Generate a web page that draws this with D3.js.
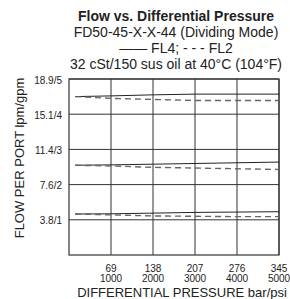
<!DOCTYPE html>
<html>
<head>
<meta charset="utf-8">
<script src="https://cdn.jsdelivr.net/npm/d3@7"></script>
<style>
  body { margin: 0; background: #fff; }
  svg text { font-family: "Liberation Sans", Arial, sans-serif; fill: #222; }
</style>
</head>
<body>
<svg id="chart" width="290" height="299"></svg>
<script>
// pressure in bar, flow in gpm
let xTicks = [69, 138, 207, 276, 345];
let xTickPsi = ["1000", "2000", "3000", "4000", "5000"];
let yTicks = [1, 2, 3, 4, 5];
let yTickLabels = ["3.8/1", "7.6/2", "11.4/3", "15.1/4", "18.9/5"];

let pressure = [10, 69, 138, 207, 276, 345];
let fl4High = [4.50, 4.52, 4.55, 4.57, 4.57, 4.57];
let fl2High = [4.50, 4.45, 4.42, 4.39, 4.39, 4.39];
let fl4Mid = [2.55, 2.56, 2.58, 2.60, 2.62, 2.64];
let fl2Mid = [2.55, 2.53, 2.49, 2.47, 2.45, 2.43];
let fl4Low = [1.165, 1.17, 1.19, 1.21, 1.22, 1.23];
let fl2Low = [1.165, 1.14, 1.11, 1.10, 1.09, 1.09];

let svg = d3.select("#chart");

let x = d3.scaleLinear().domain([0, 345]).range([69, 279]);
let y = d3.scaleLinear().domain([0, 5]).range([255, 79]);

// titles
let titles = [
    { t: "Flow vs. Differential Pressure", y: 20.5, bold: true },
    { t: "FD50-45-X-X-44 (Dividing Mode)", y: 36.5 },
    { t: "—— FL4; - - - FL2", y: 52.5 },
    { t: "32 cSt/150 sus oil at 40°C (104°F)", y: 68.5 }
];
svg.selectAll(".title").data(titles).enter().append("text")
    .attr("class", "title")
    .attr("x", 176)
    .attr("y", d => d.y)
    .attr("text-anchor", "middle")
    .style("font-size", "14px")
    .style("font-weight", d => d.bold ? "bold" : "normal")
    .text(d => d.t);

// grid
let grid = svg.append("g");
grid.selectAll(".vg").data(xTicks).enter().append("line")
    .attr("x1", d => x(d)).attr("x2", d => x(d))
    .attr("y1", y(0)).attr("y2", y(5))
    .style("stroke", "#333").style("stroke-width", 1);
grid.selectAll(".hg").data(yTicks).enter().append("line")
    .attr("x1", x(0)).attr("x2", x(345))
    .attr("y1", d => y(d)).attr("y2", d => y(d))
    .style("stroke", "#333").style("stroke-width", 1);
grid.append("rect")
    .attr("x", x(0)).attr("y", y(5))
    .attr("width", x(345) - x(0)).attr("height", y(0) - y(5))
    .style("fill", "none").style("stroke", "#333").style("stroke-width", 1.2);

// tick labels
svg.selectAll(".yl").data(yTicks).enter().append("text")
    .attr("x", 62)
    .attr("y", d => y(d) + 4.5)
    .attr("text-anchor", "end")
    .style("font-size", "10px")
    .text((d, i) => yTickLabels[i]);

let xl = svg.selectAll(".xl").data(xTicks).enter().append("text")
    .attr("text-anchor", "middle")
    .style("font-size", "10px");
xl.append("tspan").attr("x", d => x(d)).attr("y", 272).text(d => d);
xl.append("tspan").attr("x", d => x(d)).attr("y", 281.5).text((d, i) => xTickPsi[i]);

// axis titles
svg.append("text")
    .attr("x", 182).attr("y", 297)
    .attr("text-anchor", "middle")
    .style("font-size", "13px")
    .text("DIFFERENTIAL PRESSURE bar/psi");

svg.append("text")
    .attr("transform", "translate(24,158) rotate(-90)")
    .attr("text-anchor", "middle")
    .style("font-size", "13px")
    .text("FLOW PER PORT lpm/gpm");

// series
let line = d3.line()
    .x((d, i) => x(pressure[i]))
    .y(d => y(d));

let series = [
    { v: fl4High, dash: false }, { v: fl2High, dash: true },
    { v: fl4Mid, dash: false }, { v: fl2Mid, dash: true },
    { v: fl4Low, dash: false }, { v: fl2Low, dash: true }
];

svg.selectAll(".series").data(series).enter().append("path")
    .attr("d", d => line(d.v))
    .style("fill", "none")
    .style("stroke", d => d.dash ? "#666" : "#222")
    .style("stroke-width", d => d.dash ? 1.4 : 1)
    .style("stroke-dasharray", d => d.dash ? "6,4" : null);
</script>
</body>
</html>
